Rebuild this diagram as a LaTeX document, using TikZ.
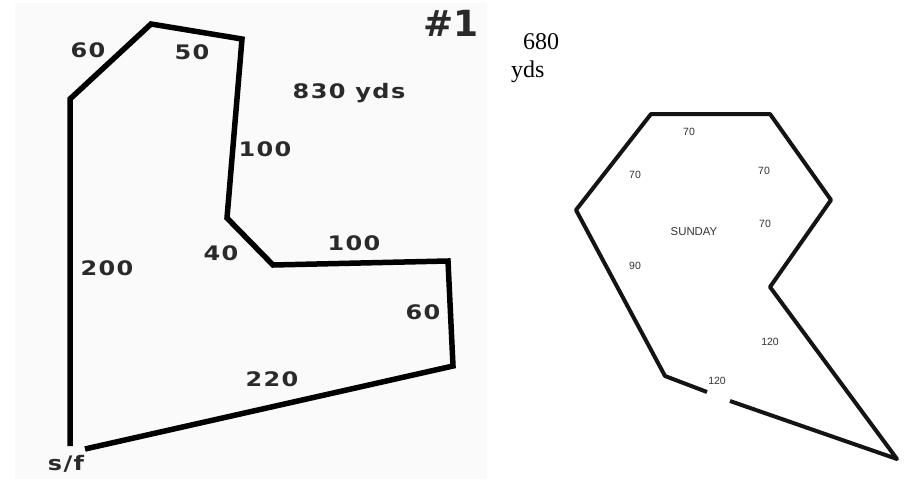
\documentclass[tikz,border=0pt]{standalone}
\usepackage{fontspec}
\setmainfont{Liberation Serif}
\newfontfamily\lefttext[LetterSpace=7,FakeStretch=1.2]{DejaVu Sans Bold}
\newfontfamily\righttext{Liberation Sans}
\definecolor{leftink}{HTML}{2A2A2A}
\definecolor{rightink}{HTML}{333333}
\definecolor{paper}{HTML}{FAFAFA}
\tikzset{
  leftcourse/.style={line width=5.5pt,black,line join=miter},
  rightcourse/.style={line width=4pt,black!92,line join=round},
  leftlabel/.style={inner sep=0pt,text=leftink,font=\lefttext\fontsize{20}{20}\selectfont},
  rightlabel/.style={inner sep=0pt,text=rightink,font=\righttext\fontsize{10.5}{11}\selectfont},
}
\begin{document}
\begin{tikzpicture}[x=1pt,y=-1pt]
\useasboundingbox (0,0) rectangle (907,479);
\fill[white] (0,0) rectangle (907,479);
\fill[paper] (15,3) rectangle (487,479);
% left course
\coordinate (a1) at (70,446);
\coordinate (a2) at (70,99);
\coordinate (a3) at (151,24);
\coordinate (a4) at (242,39);
\coordinate (a5) at (227,218);
\coordinate (a6) at (273,265);
\coordinate (a7) at (448,261);
\coordinate (a8) at (453,366);
\coordinate (a9) at (85,449);
\draw[leftcourse] (a1) -- (a2) -- (a3) -- (a4) -- (a5) -- (a6) -- (a7) -- (a8) -- (a9);
\node[leftlabel] (l60a) at (88,50) {60};
\node[leftlabel] (l50) at (192,52) {50};
\node[leftlabel] (lyds) at (349,93) {830 yds};
\node[leftlabel] (l100a) at (265,149) {100};
\node[leftlabel] (l200) at (107,268) {200};
\node[leftlabel] (l40) at (221,253) {40};
\node[leftlabel] (l100b) at (354,243) {100};
\node[leftlabel] (l60b) at (423,312) {60};
\node[leftlabel] (l220) at (272,379) {220};
\node[leftlabel] (lsf) at (66,464) {s/f};
\node[inner sep=0pt,text=leftink,font=\fontspec{DejaVu Sans Bold}\fontsize{36}{36}\selectfont] (lone) at (451,23) {\#1};
% right course
\coordinate (b1) at (707,392);
\coordinate (b2) at (665,376);
\coordinate (b3) at (576,210);
\coordinate (b4) at (651,114);
\coordinate (b5) at (770,114);
\coordinate (b6) at (831,200);
\coordinate (b7) at (770,287);
\coordinate (b8) at (897,459);
\coordinate (b9) at (730,401);
\draw[rightcourse] (b1) -- (b2) -- (b3) -- (b4) -- (b5) -- (b6) -- (b7) -- (b8) -- (b9);
\node[rightlabel] (r70a) at (689,132) {70};
\node[rightlabel] (r70b) at (635,175) {70};
\node[rightlabel] (r70c) at (764,171) {70};
\node[rightlabel] (r70d) at (765,224) {70};
\node[rightlabel,font=\righttext\fontsize{11.4}{12}\selectfont] (rsun) at (694,232) {SUNDAY};
\node[rightlabel] (r90) at (635,266) {90};
\node[rightlabel] (r120a) at (770,342) {120};
\node[rightlabel] (r120b) at (717,381) {120};
\node[inner sep=0pt,anchor=base west,font=\fontsize{24}{24}\selectfont] (r680) at (523,49) {680};
\node[inner sep=0pt,anchor=base west,font=\fontsize{24}{24}\selectfont] (ryds) at (511,77) {yds};
\end{tikzpicture}
\end{document}
